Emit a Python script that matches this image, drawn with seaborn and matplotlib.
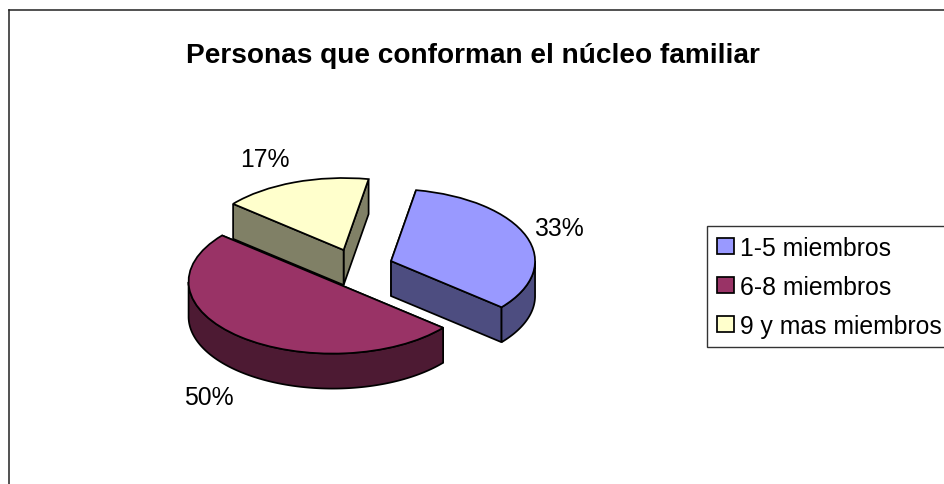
import numpy as np
import matplotlib
matplotlib.use('Agg')
import matplotlib.pyplot as plt
from matplotlib.colors import to_rgb
from matplotlib.patches import Polygon
import seaborn as sns

# ----------- Data -----------
categories = ['1-5 miembros', '6-8 miembros', '9 y mas miembros']
percentages = [33.3, 50.0, 16.7]
title = 'Personas que conforman el núcleo familiar'

top_colors = ['#9999FF', '#993366', '#FFFFCC']

sns.set_theme(style='white')
plt.rcParams['font.family'] = ['Liberation Sans', 'DejaVu Sans']

# pixel sizes, the y axis is stretched so a circle in data looks like a tilted disc
W, H = 945, 485
tilt = 0.5
radius = 144
explode = 37
depth = 35 / tilt
left_px, top_px = 9, 11
line_w = 1.25


def to_y(py):
    return (H - py) / tilt


fig = plt.figure(figsize=(W / 100, H / 100), dpi=100)
ax = fig.add_axes([left_px / W, 0, (W - left_px) / W, (H - top_px) / H])

wedges, _ = ax.pie(percentages, colors=top_colors, radius=radius,
                   center=(356.3, to_y(268.4)), explode=[explode] * 3,
                   startangle=80, counterclock=False,
                   wedgeprops={'edgecolor': 'black', 'linewidth': line_w})

ax.set_aspect('auto')
ax.set_xlim(left_px, W)
ax.set_ylim(0, to_y(top_px))
ax.set_frame_on(True)
sns.despine(ax=ax, top=False, right=True, left=False, bottom=True)
for side in ['left', 'top']:
    ax.spines[side].set_color('#222222')
    ax.spines[side].set_linewidth(1.1)

# ----------- Side walls, drawn from each wedge's own angles -----------
# back to front: yellow, magenta, blue
for order, i in enumerate([2, 1, 0]):
    w = wedges[i]
    cx, cy = w.center
    wall = tuple(c * 0.5 for c in to_rgb(top_colors[i]))
    z = 10 + 2 * order
    w.set_zorder(z + 1)
    # hidden radial face goes first, so the nearer one covers it
    ends = [(cx + radius * np.cos(np.radians(th)), cy + radius * np.sin(np.radians(th)))
            for th in (w.theta1, w.theta2)]
    ends.sort(key=lambda p: -p[1])
    for ex, ey in ends:
        ax.add_patch(Polygon([(cx, cy), (ex, ey), (ex, ey - depth), (cx, cy - depth)],
                             closed=True, facecolor=wall, edgecolor='black',
                             linewidth=line_w, zorder=z))
    angles = np.linspace(w.theta1, w.theta2, 400)
    angles = angles[np.sin(np.radians(angles)) < 0]
    if len(angles) > 1:
        xs = cx + radius * np.cos(np.radians(angles))
        ys = cy + radius * np.sin(np.radians(angles))
        outline = np.vstack([np.column_stack([xs, ys]),
                             np.column_stack([xs, ys - depth])[::-1]])
        ax.add_patch(Polygon(outline, closed=True, facecolor=wall, edgecolor='black',
                             linewidth=line_w, zorder=z))

# ----------- Text -----------
ax.text(473, to_y(56), title, fontsize=20.2, fontweight='bold', ha='center', va='center',
        color='black')

label_pos = [(559, 229), (209, 398), (265, 160)]
for pct, (px, py) in zip(percentages, label_pos):
    ax.text(px, to_y(py), '{0}%'.format(round(pct)), fontsize=17.8, ha='center', va='center',
            color='black', zorder=30)

leg = fig.legend(wedges, categories, loc='upper left',
                 bbox_to_anchor=(707 / W, 1 - 227 / H), bbox_transform=fig.transFigure,
                 borderaxespad=0, fontsize=17.8, frameon=True, fancybox=False,
                 framealpha=1, edgecolor='#333333', borderpad=0.4, labelspacing=0.6,
                 handlelength=0.68, handleheight=0.6, handletextpad=0.25, labelcolor='black')
leg.get_frame().set_linewidth(1.0)

plt.savefig('out.png', dpi=100)
